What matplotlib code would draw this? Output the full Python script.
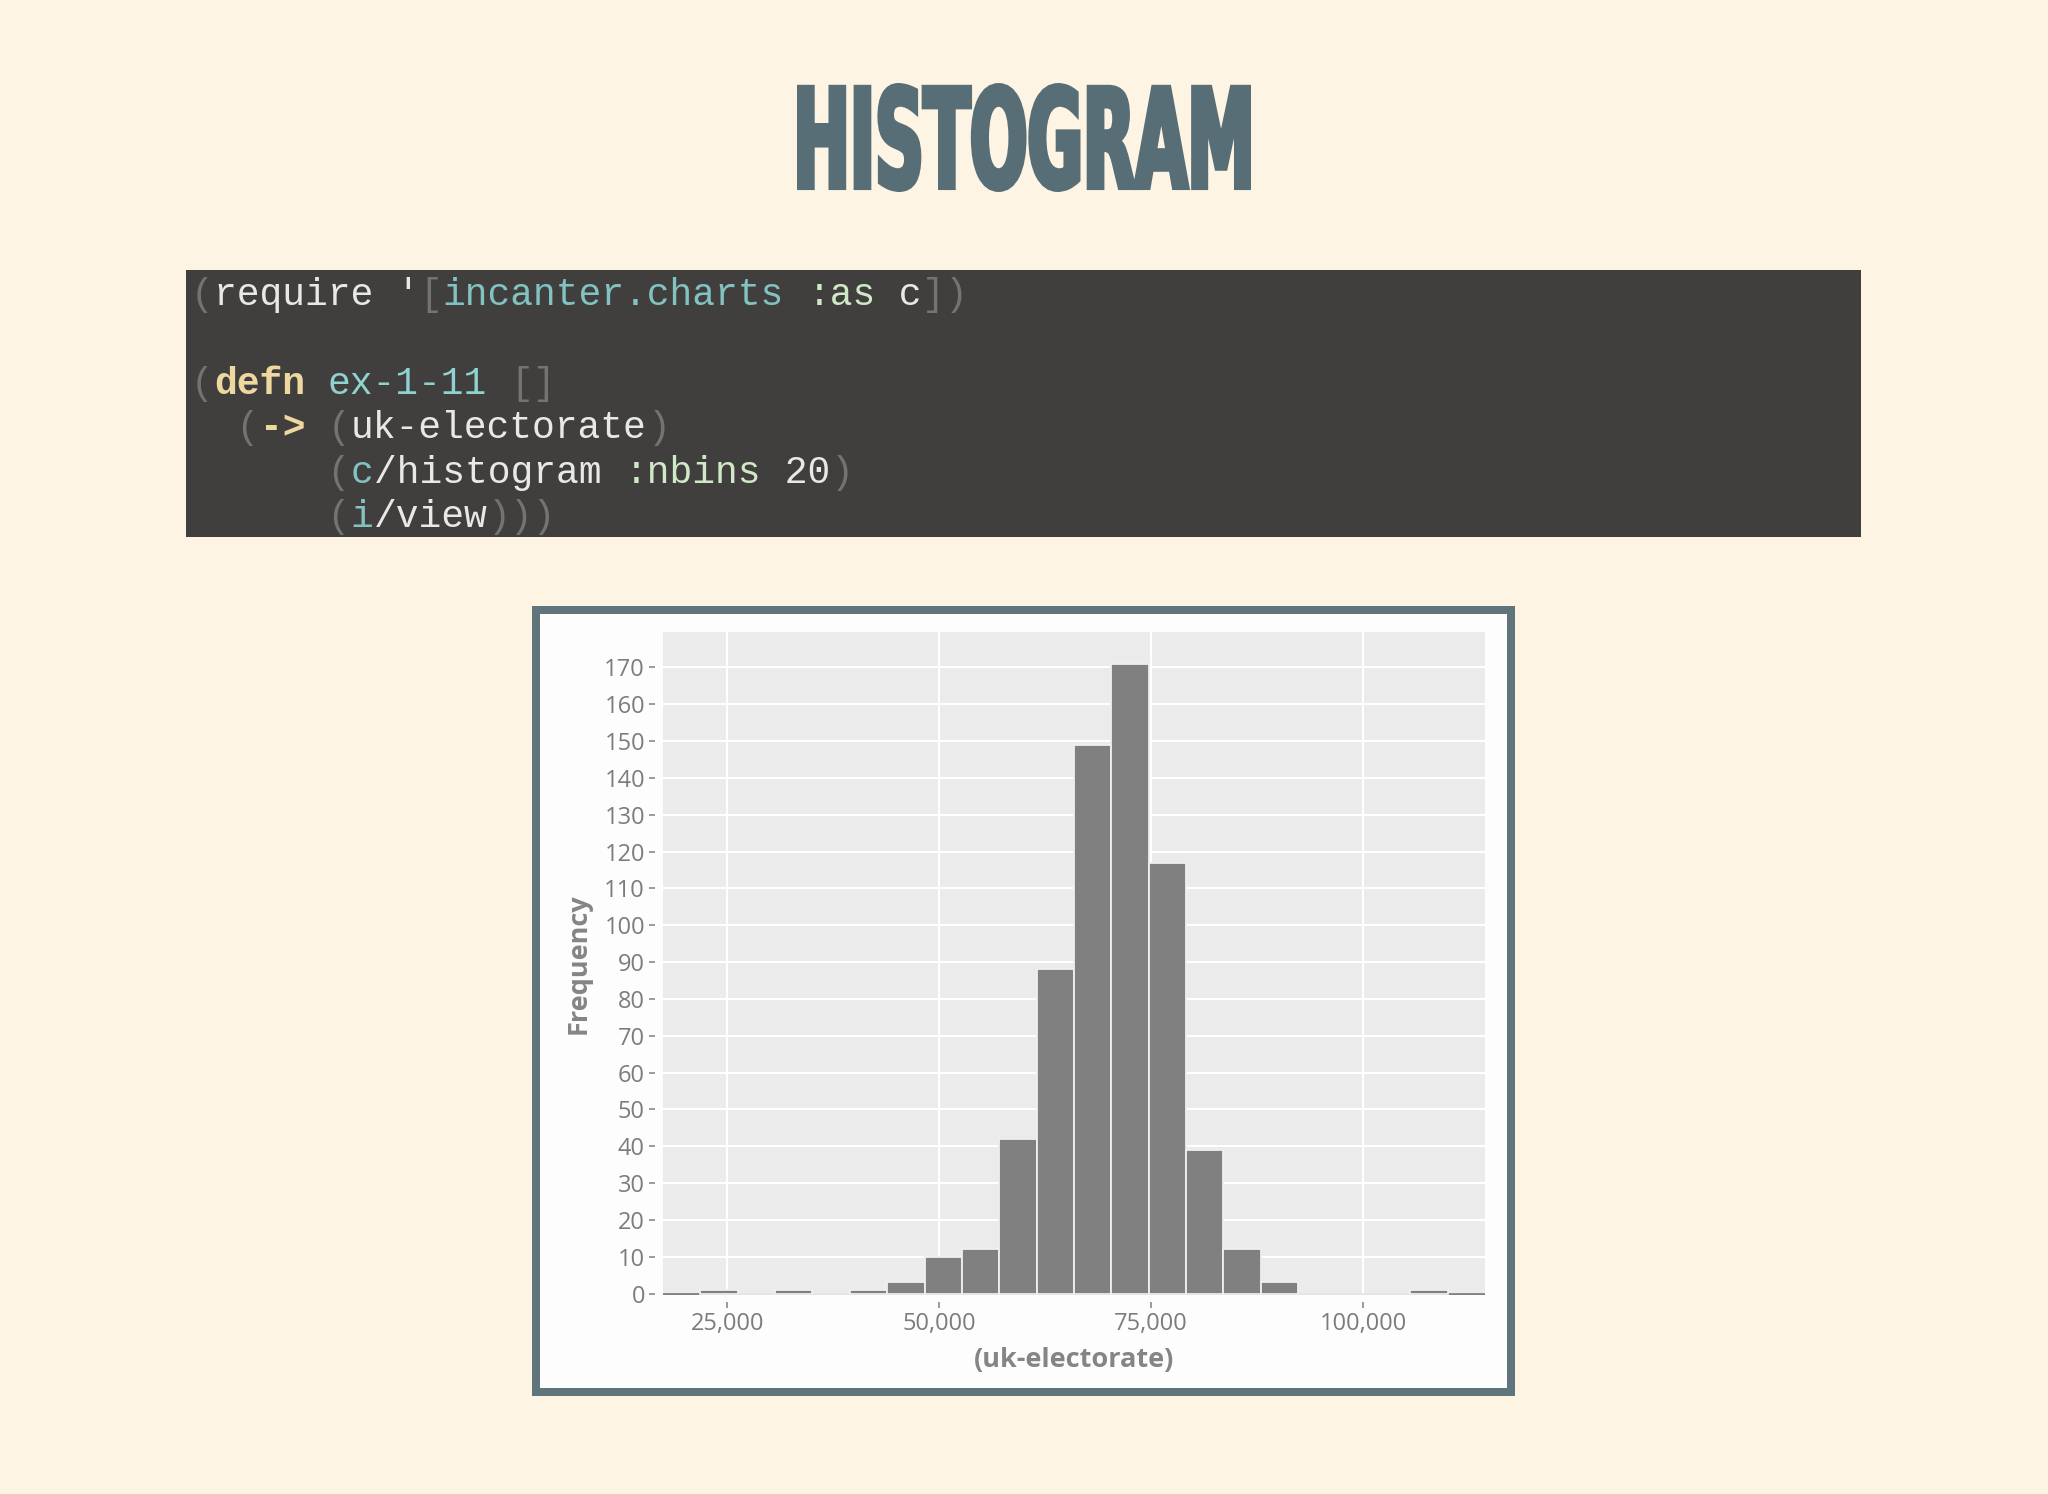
import numpy as np
import matplotlib
matplotlib.use("Agg")
import matplotlib.pyplot as plt
from matplotlib.patches import Rectangle, PathPatch
from matplotlib.textpath import TextPath
from matplotlib.font_manager import FontProperties
from matplotlib.transforms import Affine2D
from matplotlib.ticker import FuncFormatter

# data (650 constituencies, 20 bins)
electorate_min = 21837
electorate_max = 109966
counts = [1, 0, 1, 0, 1, 3, 10, 12, 42, 88, 149, 171, 117, 39, 12, 3, 0, 0, 0, 1]
x_ticks = [25000, 50000, 75000, 100000]
y_ticks = list(range(0, 171, 10))

code_lines = [
    [("(", "paren"), ("require ", "plain"), ("'", "plain"), ("[", "paren"),
     ("incanter.charts", "teal"), (" ", "plain"), (":as", "kw"), (" c", "plain"),
     ("]", "paren"), (")", "paren")],
    [],
    [("(", "paren"), ("defn", "macro"), (" ", "plain"), ("ex-1-11", "name"),
     (" ", "plain"), ("[]", "paren")],
    [("  (", "paren"), ("->", "macro"), (" ", "plain"), ("(", "paren"),
     ("uk-electorate", "plain"), (")", "paren")],
    [("      (", "paren"), ("c", "teal"), ("/histogram ", "plain"),
     (":nbins", "kw"), (" 20", "plain"), (")", "paren")],
    [("      (", "paren"), ("i", "teal"), ("/view", "plain"), (")))", "paren")],
]

W, H = 2048, 1494
BG = "#fdf4e3"
code_colors = {"paren": "#737373", "plain": "#e8e8e6", "teal": "#82c3c1",
               "name": "#8fd3d0", "kw": "#cfe8c6", "macro": "#efd8a0"}

fig = plt.figure(figsize=(W / 100, H / 100), dpi=100, facecolor=BG)

# background layer in pixel coordinates (y measured from bottom)
bg = fig.add_axes([0, 0, 1, 1])
bg.set_xlim(0, W)
bg.set_ylim(0, H)
bg.axis("off")

# title, squeezed into the condensed shape of the original lettering
prop = FontProperties(family=["Liberation Sans Narrow", "DejaVu Sans"], weight="bold")
tp = TextPath((0, 0), "HISTOGRAM", size=100, prop=prop)
ext = tp.get_extents()
stroke = 5
x0, x1, ytop, ybot = 797 + stroke / 2, 1251 - stroke / 2, 83 + stroke / 2, 192 - stroke / 2
sx = (x1 - x0) / ext.width
sy = (ybot - ytop) / ext.height
tr = Affine2D().translate(-ext.x0, -ext.y0).scale(sx, sy).translate(x0, H - ybot)
title_path = tr.transform_path(tp)
bg.add_patch(PathPatch(title_path, facecolor="#586e76", edgecolor="#586e76",
                       lw=stroke * 0.72, joinstyle="miter"))

# code block
bg.add_patch(Rectangle((186, H - 537), 1861 - 186, 537 - 270, facecolor="#403f3e",
                       edgecolor="none"))
fs = 27.4
cw = 0.6 * fs * 100 / 72
baselines = [305, 350, 394, 438.5, 483, 527]
for line, yb in zip(code_lines, baselines):
    col = 0
    for tok, kind in line:
        bold = kind == "macro"
        bg.text(191 + col * cw, H - yb, tok, family=["Liberation Mono", "DejaVu Sans Mono"],
                fontsize=fs, color=code_colors[kind], va="baseline", ha="left",
                fontweight="bold" if bold else "normal")
        col += len(tok)

# chart frame
bg.add_patch(Rectangle((535.5, H - 1392), 1511 - 535.5, 1392 - 610, facecolor="#fdfdfd",
                       edgecolor="#5f747b", lw=8 * 0.72))

# histogram
edges = np.linspace(electorate_min, electorate_max, len(counts) + 1)
binw = edges[1] - edges[0]

ax = fig.add_axes([663 / W, 1 - 1295 / H, (1485 - 663) / W, (1295 - 632) / H])
ax.set_facecolor("#ebebeb")
for s in ax.spines.values():
    s.set_visible(False)
ax.spines["left"].set_position(("outward", 6))
ax.spines["bottom"].set_position(("outward", 5))

ax.axhline(0, color="#808080", lw=2, zorder=2)
ax.bar(edges[:-1], counts, width=binw, align="edge", color="#808080",
       edgecolor="#efefef", linewidth=1.3, zorder=3)

ax.set_xlim(electorate_min - binw, electorate_max + binw)
ax.set_ylim(-0.4, 179.6)
ax.set_xticks(x_ticks)
ax.set_yticks(y_ticks)
ax.xaxis.set_major_formatter(FuncFormatter(lambda v, p: f"{int(v):,}"))
ax.grid(True, color="white", lw=1.5, zorder=1)
ax.set_axisbelow(True)
ax.tick_params(axis="both", colors="#8a8a8a", labelcolor="#7c7c7c", length=4,
               width=1.2, labelsize=17, pad=3)
for lab in ax.get_xticklabels() + ax.get_yticklabels():
    lab.set_family(["Open Sans", "DejaVu Sans"])

ax.set_xlabel("(uk-electorate)", family=["Open Sans", "DejaVu Sans"], fontsize=19.5,
              fontweight="bold", color="#858585", va="center")
ax.set_ylabel("Frequency", family=["Open Sans", "DejaVu Sans"], fontsize=19.5,
              fontweight="bold", color="#858585", va="center")
ax.xaxis.set_label_coords(0.5, -0.0974)
ax.yaxis.set_label_coords(-0.1027, 0.5)

fig.savefig("out.png", dpi=100, facecolor=BG)
